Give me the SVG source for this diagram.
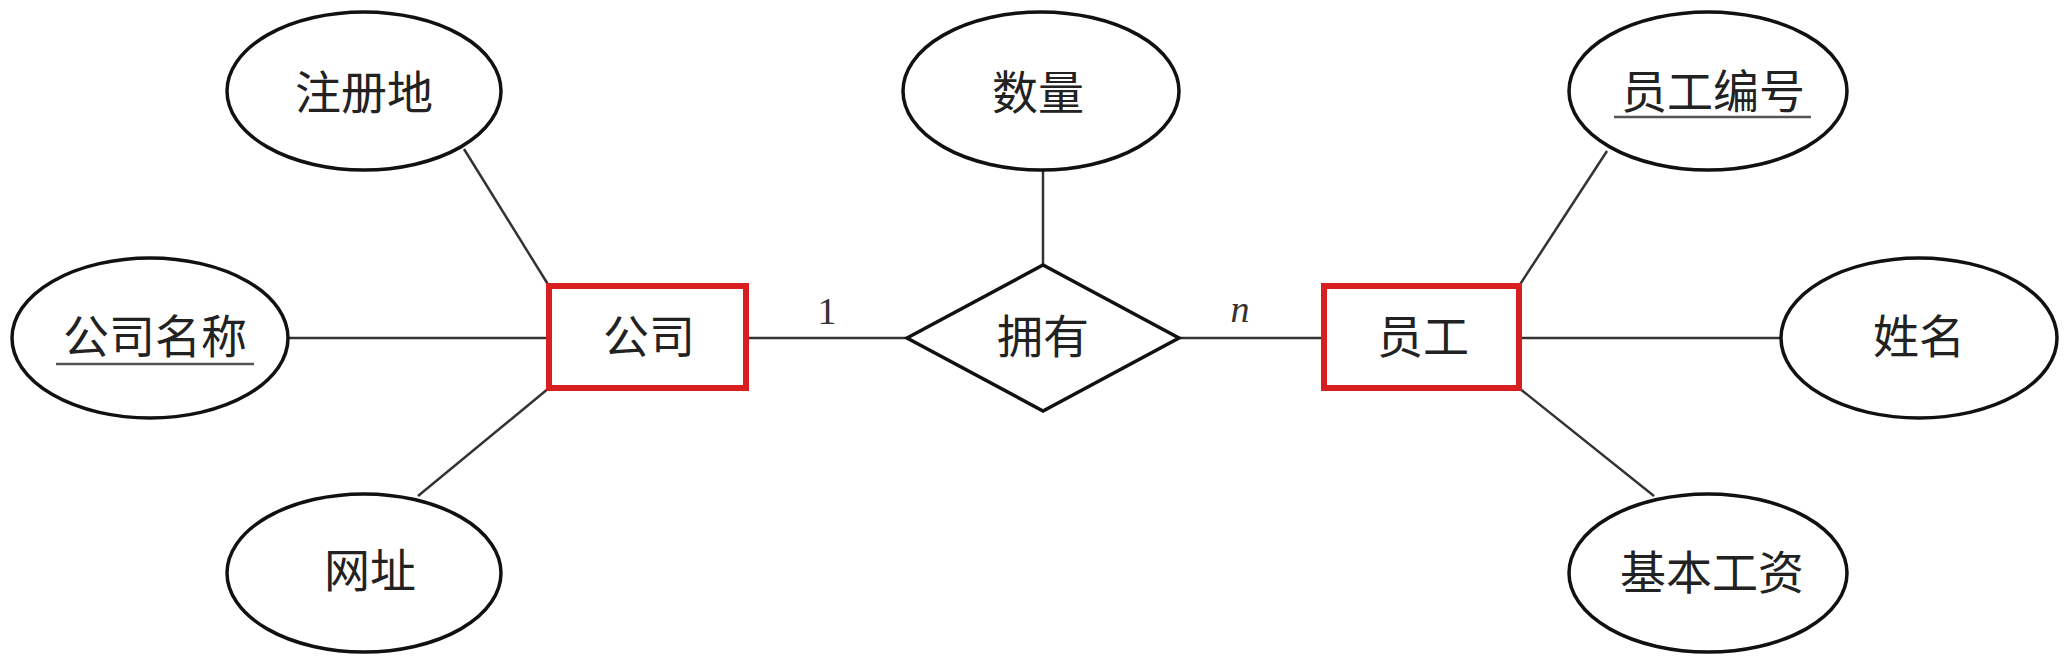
<svg xmlns="http://www.w3.org/2000/svg" width="2070" height="668" viewBox="0 0 2070 668">
<style>
.attr{fill:#fff;stroke:#111;stroke-width:3.5}
.ent{fill:#fff;stroke:#d81e1e;stroke-width:6}
.rel{fill:#fff;stroke:#111;stroke-width:3.5}
.t{font-family:"Liberation Serif","Noto Sans CJK SC",serif;font-size:46px;fill:#222;text-anchor:middle;dominant-baseline:central}
.card{font-family:"Liberation Serif",serif;font-size:38px;fill:#333;text-anchor:middle}
.conn line{stroke:#333;stroke-width:2.5}
.ul{stroke:#555;stroke-width:2.5}
</style>
<rect width="2070" height="668" fill="#fff"/>
<g class="conn" id="connectors">
<line x1="464" y1="149" x2="549" y2="286"/>
<line x1="288" y1="338" x2="549" y2="338"/>
<line x1="418" y1="496" x2="549" y2="388"/>
<line x1="746" y1="338" x2="907" y2="338"/>
<line x1="1043" y1="170" x2="1043" y2="265"/>
<line x1="1179" y1="338" x2="1324" y2="338"/>
<line x1="1607" y1="151" x2="1519" y2="286"/>
<line x1="1519" y1="338" x2="1781" y2="338"/>
<line x1="1519" y1="388" x2="1654" y2="496"/>
<text class="card" x="827" y="324">1</text>
<text class="card" x="1240" y="322" font-style="italic">n</text>
</g>
<g id="zhucedi"><ellipse class="attr" cx="364" cy="91" rx="137" ry="79"/><text class="t" x="364" y="93">注册地</text></g>
<g id="gongsimingcheng"><ellipse class="attr" cx="150" cy="338" rx="138" ry="80"/><text class="t" x="155" y="337">公司名称</text><line class="ul" x1="56" y1="364" x2="254" y2="364"/></g>
<g id="wangzhi"><ellipse class="attr" cx="364" cy="573" rx="137" ry="79"/><text class="t" x="370" y="571">网址</text></g>
<g id="gongsi"><rect class="ent" x="549" y="286" width="197" height="102"/><text class="t" x="649" y="337">公司</text></g>
<g id="shuliang"><ellipse class="attr" cx="1041" cy="91" rx="138" ry="79"/><text class="t" x="1038" y="93">数量</text></g>
<g id="yongyou"><polygon class="rel" points="907,338 1043,265 1179,338 1043,411"/><text class="t" x="1043" y="337">拥有</text></g>
<g id="yuangong"><rect class="ent" x="1324" y="286" width="195" height="102"/><text class="t" x="1423" y="337">员工</text></g>
<g id="yuangongbianhao"><ellipse class="attr" cx="1708" cy="91" rx="139" ry="79"/><text class="t" x="1713" y="92">员工编号</text><line class="ul" x1="1614" y1="117" x2="1811" y2="117"/></g>
<g id="xingming"><ellipse class="attr" cx="1919" cy="338" rx="138" ry="80"/><text class="t" x="1919" y="337">姓名</text></g>
<g id="jibengongzi"><ellipse class="attr" cx="1708" cy="573" rx="139" ry="79"/><text class="t" x="1712" y="573">基本工资</text></g>
</svg>
